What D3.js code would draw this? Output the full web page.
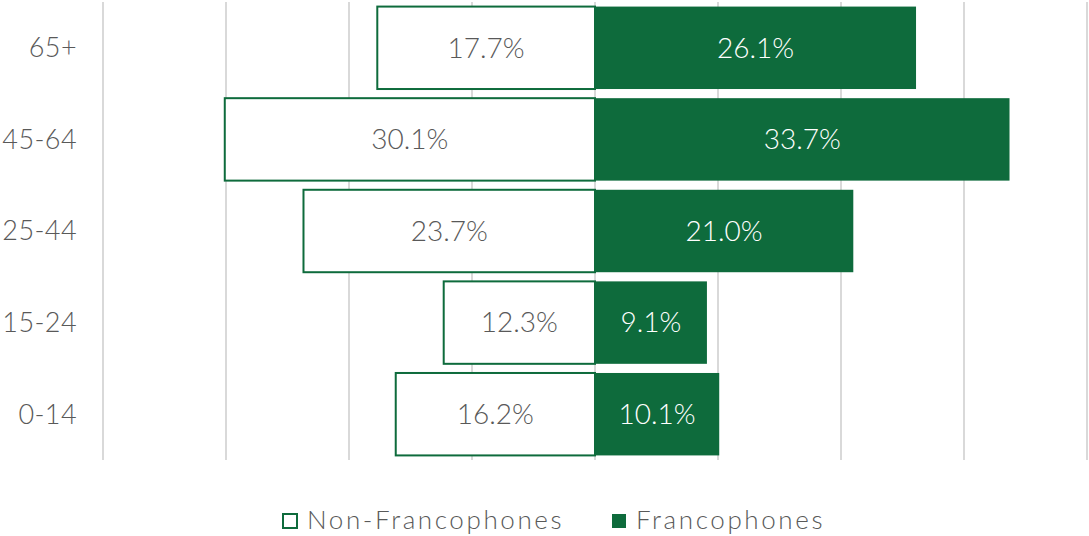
<!DOCTYPE html>
<html>
<head>
<meta charset="utf-8">
<script src="https://cdn.jsdelivr.net/npm/d3@7"></script>
<style>
  body { margin: 0; background: #fff; }
  svg text { font-family: "Lato", "Open Sans", sans-serif; font-weight: 300; }
</style>
</head>
<body>
<svg id="chart"></svg>
<script>
let w = 1089;
let h = 536;

// age groups, top to bottom
const ageGroups = ['65+', '45-64', '25-44', '15-24', '0-14'];
const nonFranco = [17.7, 30.1, 23.7, 12.3, 16.2];
const franco = [26.1, 33.7, 21.0, 9.1, 10.1];
const xTicks = [-40, -30, -20, -10, 0, 10, 20, 30, 40];
const seriesNames = ['Non-Francophones', 'Francophones'];

const green = '#0e6b3c';
const textGray = '#595959';

const svg = d3.select('#chart')
    .attr('width', w)
    .attr('height', h);

const xScale = d3.scaleLinear()
    .domain([-40, 40])
    .range([103, 1087]);

const yScale = d3.scaleBand()
    .domain(ageGroups)
    .range([2, 460])
    .paddingInner(0.1)
    .paddingOuter(0.05);

// gridlines
svg.append('g')
    .selectAll('line')
    .data(xTicks)
    .join('line')
    .attr('x1', d => xScale(d))
    .attr('x2', d => xScale(d))
    .attr('y1', 2)
    .attr('y2', 460)
    .attr('stroke', '#d9d9d9')
    .attr('stroke-width', 2);

// y labels
svg.append('g')
    .selectAll('text')
    .data(ageGroups)
    .join('text')
    .attr('x', 77)
    .attr('y', d => yScale(d) + yScale.bandwidth() / 2)
    .attr('dy', '0.35em')
    .attr('text-anchor', 'end')
    .attr('font-size', 27)
    .attr('letter-spacing', 0.4)
    .attr('fill', textGray)
    .text(d => d);

// non-francophone bars (left)
svg.append('g')
    .selectAll('rect')
    .data(nonFranco)
    .join('rect')
    .attr('x', d => xScale(-d))
    .attr('y', (d, i) => yScale(ageGroups[i]))
    .attr('width', d => xScale(0) - xScale(-d))
    .attr('height', yScale.bandwidth())
    .attr('fill', '#fff')
    .attr('stroke', green)
    .attr('stroke-width', 2);

// francophone bars (right)
svg.append('g')
    .selectAll('rect')
    .data(franco)
    .join('rect')
    .attr('x', xScale(0) + 1)
    .attr('y', (d, i) => yScale(ageGroups[i]))
    .attr('width', d => xScale(d) - xScale(0) - 1)
    .attr('height', yScale.bandwidth())
    .attr('fill', green);

// value labels
svg.append('g')
    .selectAll('text')
    .data(nonFranco)
    .join('text')
    .attr('x', d => (xScale(-d) + xScale(0)) / 2)
    .attr('y', (d, i) => yScale(ageGroups[i]) + yScale.bandwidth() / 2)
    .attr('dy', '0.35em')
    .attr('text-anchor', 'middle')
    .attr('font-size', 28)
    .attr('fill', textGray)
    .text(d => d.toFixed(1) + '%');

svg.append('g')
    .selectAll('text')
    .data(franco)
    .join('text')
    .attr('x', d => (xScale(d) + xScale(0)) / 2)
    .attr('y', (d, i) => yScale(ageGroups[i]) + yScale.bandwidth() / 2)
    .attr('dy', '0.35em')
    .attr('text-anchor', 'middle')
    .attr('font-size', 28)
    .attr('fill', '#fff')
    .text(d => d.toFixed(1) + '%');

// legend
const legend = svg.append('g')
    .attr('font-size', 26)
    .attr('fill', textGray);

const legendX = [283, 612];
legend.selectAll('rect')
    .data(seriesNames)
    .join('rect')
    .attr('x', (d, i) => legendX[i])
    .attr('y', 514)
    .attr('width', 14)
    .attr('height', 14)
    .attr('fill', (d, i) => i == 0 ? '#fff' : green)
    .attr('stroke', green)
    .attr('stroke-width', (d, i) => i == 0 ? 2 : 0);

legend.selectAll('text')
    .data(seriesNames)
    .join('text')
    .attr('x', (d, i) => legendX[i] + 24)
    .attr('y', 529)
    .attr('letter-spacing', 2.6)
    .text(d => d);
</script>
</body>
</html>
